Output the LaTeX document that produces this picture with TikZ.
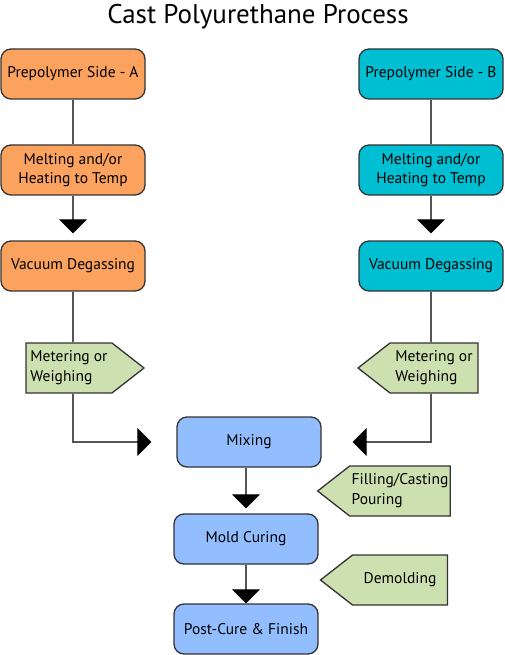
\documentclass[tikz,border=0pt]{standalone}
\usepackage{fontspec}
\setmainfont{PT Sans}
\usetikzlibrary{arrows.meta,shapes.symbols}
\definecolor{sidea}{HTML}{FBA35E}
\definecolor{sideb}{HTML}{00BFD3}
\definecolor{mixblue}{HTML}{92BEFF}
\definecolor{dosegreen}{HTML}{CDE0AF}
\definecolor{edgegray}{HTML}{333333}
\definecolor{wire}{HTML}{555555}

\begin{document}
\begin{tikzpicture}[x=1pt, y=-1pt,
  stage/.style={rectangle, rounded corners=10pt, draw=edgegray, line width=1.3pt,
                minimum width=144pt, minimum height=50pt, inner sep=2pt,
                font=\fontsize{15.5}{19}\selectfont, align=center},
  dose/.style={signal, signal pointer angle=76, draw=edgegray, line width=1.3pt,
               fill=dosegreen, minimum width=118pt, minimum height=50pt, inner sep=2pt,
               font=\fontsize{15.5}{20}\selectfont, align=left},
  link/.style={draw=wire, line width=1.2pt},
  flow/.style={link, -{Triangle[width=28pt, length=14pt, color=black]}},
]
  \useasboundingbox (0,0) rectangle (504,655);
  \node[font=\fontsize{27}{32}\selectfont] (title) at (258,17) {Cast Polyurethane Process};

  % side A
  \node[stage, fill=sidea] (preA)  at (73,74)  {Prepolymer Side - A};
  \node[stage, fill=sidea] (meltA) at (73,170) {Melting and/or\\Heating to Temp};
  \node[stage, fill=sidea] (vacA)  at (73,266) {Vacuum Degassing};
  \node[dose, signal to=east] (dosA) at (69,368) {Metering or\\Weighing};

  % side B
  \node[stage, fill=sideb] (preB)  at (431,74)  {Prepolymer Side - B};
  \node[stage, fill=sideb] (meltB) at (431,170) {Melting and/or\\Heating to Temp};
  \node[stage, fill=sideb] (vacB)  at (431,266) {Vacuum Degassing};
  \node[dose, signal to=west, minimum width=120pt] (dosB) at (434,368) {Metering or\\Weighing};

  % common line
  \node[stage, fill=mixblue] (mix)  at (249,442) {Mixing};
  \node[stage, fill=mixblue] (mold) at (246,539) {Mold Curing};
  \node[stage, fill=mixblue] (post) at (246,629) {Post-Cure \& Finish};
  \node[dose, signal to=west, minimum width=127pt] (fill) at (400,491) {Filling/Casting\\Pouring};
  \node[dose, signal to=west, minimum width=127pt] (demold) at (400,580) {Demolding};

  \draw[link] (preA) -- (meltA);
  \draw[flow, shorten >=7pt] (meltA) -- (vacA);
  \draw[link] (vacA.south) -- (vacA.south |- dosA.north);
  \draw[flow, shorten >=25pt] (vacA.south |- dosA.south) |- (mix.west);

  \draw[link] (preB) -- (meltB);
  \draw[flow, shorten >=7pt] (meltB) -- (vacB);
  \draw[link] (vacB.south) -- (vacB.south |- dosB.north);
  \draw[flow, shorten >=31pt] (vacB.south |- dosB.south) |- (mix.east);

  \draw[flow, shorten >=5pt] (mold.north |- mix.south) -- (mold.north);
  \draw[flow] (post.north |- mold.south) -- (post.north);
\end{tikzpicture}
\end{document}
